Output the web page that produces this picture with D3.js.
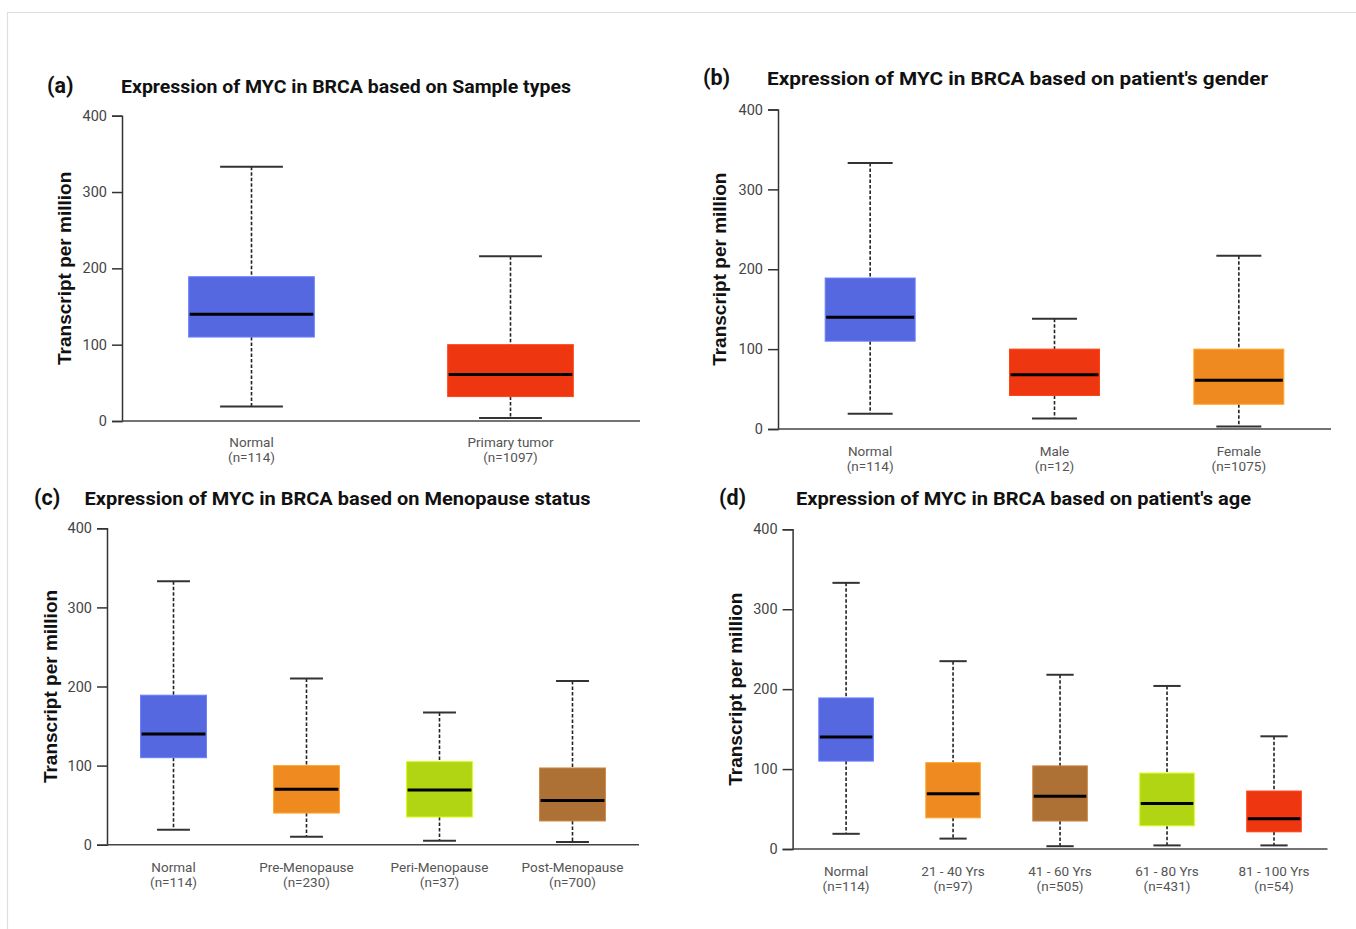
<!DOCTYPE html>
<html>
<head>
<meta charset="utf-8">
<script src="https://cdn.jsdelivr.net/npm/d3@7/dist/d3.min.js"></script>
<style>
  html, body { margin: 0; padding: 0; background: #fff; }
  svg { display: block; }
</style>
</head>
<body>
<svg id="fig" width="1356" height="929"></svg>
<script>
// Box statistics are [lower whisker, Q1, median, Q3, upper whisker] in TPM.
const yTicks = [0, 100, 200, 300, 400];

// (a) sample types
const sampleCats = ["Normal", "Primary tumor"];
const sampleN = [114, 1097];
const sampleStats = [[19, 110, 140, 189, 333], [4, 32, 61, 100, 216]];
const sampleColors = ["#5568E0", "#EE3711"];

// (b) gender
const genderCats = ["Normal", "Male", "Female"];
const genderN = [114, 12, 1075];
const genderStats = [[19, 110, 140, 189, 333], [13, 42, 68, 100, 138], [3, 31, 61, 100, 217]];
const genderColors = ["#5568E0", "#EE3711", "#EE8A20"];

// (c) menopause status
const menoCats = ["Normal", "Pre-Menopause", "Peri-Menopause", "Post-Menopause"];
const menoN = [114, 230, 37, 700];
const menoStats = [[19, 110, 140, 189, 333], [10, 40, 70, 100, 210], [5, 35, 69, 105, 167], [3.5, 30, 56, 97, 207]];
const menoColors = ["#5568E0", "#EE8A20", "#B1D512", "#AD7035"];

// (d) age
const ageCats = ["Normal", "21 - 40 Yrs", "41 - 60 Yrs", "61 - 80 Yrs", "81 - 100 Yrs"];
const ageN = [114, 97, 505, 431, 54];
const ageStats = [[19, 110, 140, 189, 333], [13, 39, 69, 108, 235], [3.5, 35, 66, 104, 218], [4.5, 29, 57, 95, 204], [4.5, 21.5, 38, 72.5, 141]];
const ageColors = ["#5568E0", "#EE8A20", "#AD7035", "#B1D512", "#EE3711"];

const svg = d3.select("#fig");

// thin page frame
svg.append("path")
  .attr("d", "M7.5,929 V12.5 H1356")
  .attr("fill", "none").attr("stroke", "#dedede").attr("stroke-width", 1.2);

const panels = [
  { tag: "(a)", title: "Expression of MYC in BRCA based on Sample types",
    cats: sampleCats, n: sampleN, stats: sampleStats, colors: sampleColors,
    xr: [122, 640], yr: [421, 115.7], boxFrac: 0.485,
    tagX: 47, titleX: 121, titleW: 450, titleY: 93, ylabX: 64, labGap: 26 },
  { tag: "(b)", title: "Expression of MYC in BRCA based on patient's gender",
    cats: genderCats, n: genderN, stats: genderStats, colors: genderColors,
    xr: [778, 1331], yr: [429, 109.5], boxFrac: 0.488,
    tagX: 703, titleX: 767, titleW: 501, titleY: 85, ylabX: 719, labGap: 27 },
  { tag: "(c)", title: "Expression of MYC in BRCA based on Menopause status",
    cats: menoCats, n: menoN, stats: menoStats, colors: menoColors,
    xr: [107, 639], yr: [844.7, 528.3], boxFrac: 0.495,
    tagX: 34, titleX: 84.5, titleW: 506, titleY: 504.5, ylabX: 50.5, labGap: 27 },
  { tag: "(d)", title: "Expression of MYC in BRCA based on patient's age",
    cats: ageCats, n: ageN, stats: ageStats, colors: ageColors,
    xr: [792.6, 1327.5], yr: [849, 529.3], boxFrac: 0.51,
    tagX: 719, titleX: 796, titleW: 455, titleY: 505, ylabX: 735, labGap: 27 }
];

panels.forEach(p => {
  const g = svg.append("g");
  const x = d3.scaleBand().domain(p.cats).range(p.xr).paddingInner(0).paddingOuter(0);
  const y = d3.scaleLinear().domain([0, 400]).range(p.yr);
  const bw = x.step() * p.boxFrac;
  const capW = bw / 2;

  // panel tag and title
  g.append("text")
    .attr("x", p.tagX).attr("y", p.titleY)
    .attr("font-family", "Roboto, sans-serif").attr("font-weight", 700)
    .attr("font-size", 21.5).attr("fill", "#111").text(p.tag);
  g.append("text")
    .attr("x", p.titleX).attr("y", p.titleY)
    .attr("font-family", "Roboto, sans-serif").attr("font-weight", 700)
    .attr("font-size", 19.2).attr("fill", "#111")
    .attr("textLength", p.titleW).attr("lengthAdjust", "spacingAndGlyphs")
    .text(p.title);

  // y axis
  const yAxis = d3.axisLeft(y).tickValues(yTicks).tickSize(10).tickPadding(5);
  const ya = g.append("g").attr("transform", `translate(${p.xr[0]},0)`).call(yAxis);
  ya.select(".domain").attr("stroke", "#333").attr("stroke-width", 1.5);
  ya.selectAll(".tick line").attr("stroke", "#333").attr("stroke-width", 1.5);
  ya.selectAll(".tick text")
    .attr("font-family", "Roboto, sans-serif").attr("font-size", 14.5).attr("fill", "#444");

  // x baseline
  g.append("line")
    .attr("x1", p.xr[0]).attr("x2", p.xr[1])
    .attr("y1", y(0)).attr("y2", y(0))
    .attr("stroke", "#444").attr("stroke-width", 1.6);

  // y axis title
  const yMid = (p.yr[0] + p.yr[1]) / 2;
  g.append("text")
    .attr("transform", `translate(${p.ylabX},${yMid}) rotate(-90)`)
    .attr("text-anchor", "middle").attr("dy", "0.35em")
    .attr("font-family", "'Liberation Sans', Arial, sans-serif").attr("font-weight", 700)
    .attr("font-size", 19).attr("fill", "#111").text("Transcript per million");

  // category labels
  const labs = g.selectAll(".xl").data(p.cats).join("text")
    .attr("text-anchor", "middle")
    .attr("font-family", "Roboto, sans-serif").attr("font-size", 13.5).attr("fill", "#555");
  labs.append("tspan")
    .attr("x", d => x(d) + x.bandwidth() / 2).attr("y", y(0) + p.labGap)
    .text(d => d);
  labs.append("tspan")
    .attr("x", d => x(d) + x.bandwidth() / 2).attr("y", y(0) + p.labGap + 15)
    .text((d, i) => `(n=${p.n[i]})`);

  // boxes
  const rows = p.cats.map((c, i) => ({ c, s: p.stats[i], col: p.colors[i] }));
  const bx = g.selectAll(".bx").data(rows).join("g")
    .attr("transform", d => `translate(${x(d.c) + x.bandwidth() / 2},0)`);

  // dashed whiskers
  bx.append("line")
    .attr("x1", 0).attr("x2", 0)
    .attr("y1", d => y(d.s[4])).attr("y2", d => y(d.s[3]))
    .attr("stroke", "#222").attr("stroke-width", 1.6).attr("stroke-dasharray", "3.5,2");
  bx.append("line")
    .attr("x1", 0).attr("x2", 0)
    .attr("y1", d => y(d.s[1])).attr("y2", d => y(d.s[0]))
    .attr("stroke", "#222").attr("stroke-width", 1.6).attr("stroke-dasharray", "3.5,2");

  // whisker caps
  [0, 4].forEach(k => {
    bx.append("line")
      .attr("x1", -capW / 2).attr("x2", capW / 2)
      .attr("y1", d => y(d.s[k])).attr("y2", d => y(d.s[k]))
      .attr("stroke", "#333").attr("stroke-width", 2);
  });

  // box body
  bx.append("rect")
    .attr("x", -bw / 2).attr("width", bw)
    .attr("y", d => y(d.s[3])).attr("height", d => y(d.s[1]) - y(d.s[3]))
    .attr("fill", d => d.col)
    .attr("stroke", d => d3.color(d.col).brighter(0.5)).attr("stroke-width", 1);

  // median
  bx.append("line")
    .attr("x1", -bw / 2 + 1).attr("x2", bw / 2 - 1)
    .attr("y1", d => y(d.s[2])).attr("y2", d => y(d.s[2]))
    .attr("stroke", "#000").attr("stroke-width", 3);
});
</script>
</body>
</html>
